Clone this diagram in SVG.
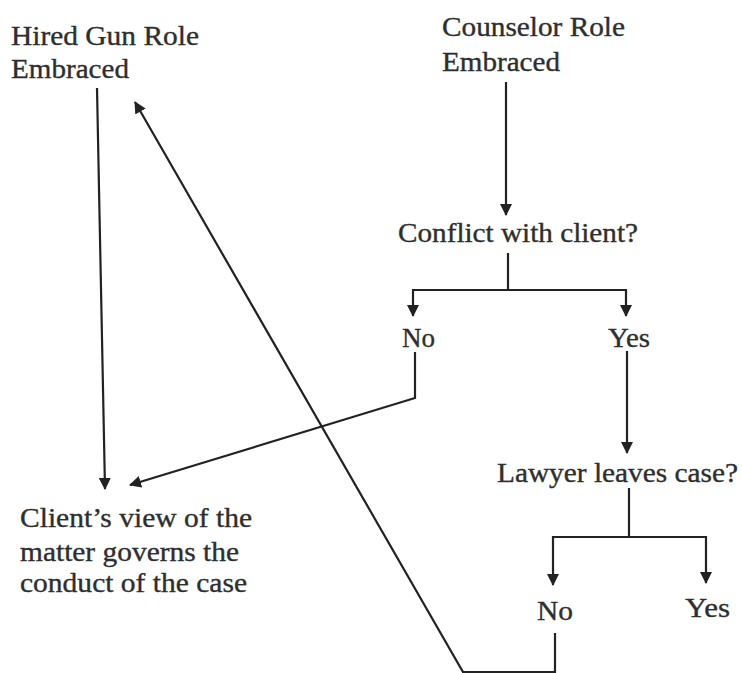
<svg xmlns="http://www.w3.org/2000/svg" width="742" height="673" viewBox="0 0 742 673">
<defs>
<style>
text{font-family:"Liberation Serif","Times New Roman",serif;font-size:27px;fill:#2e2e2e;stroke:#2e2e2e;stroke-width:0.35;}
.c{fill:none;stroke:#222;stroke-width:2.2;}
</style>
<marker id="ah" viewBox="0 0 12 12" refX="11" refY="6" markerWidth="12" markerHeight="12" markerUnits="userSpaceOnUse" orient="auto">
<path d="M0,0 L12,6 L0,12 Z" fill="#222"/>
</marker>
</defs>
<rect width="742" height="673" fill="#fff"/>
<g id="connectors">
<path class="c" d="M97,88 L105,489" marker-end="url(#ah)"/>
<path class="c" d="M506,82 V215" marker-end="url(#ah)"/>
<path class="c" d="M508,253 V290 H413 V316" marker-end="url(#ah)"/>
<path class="c" d="M508,290 H626 V316" marker-end="url(#ah)"/>
<path class="c" d="M415,352 V398 L130,485" marker-end="url(#ah)"/>
<path class="c" d="M627,351 V453" marker-end="url(#ah)"/>
<path class="c" d="M629,488 V537 H553 V585" marker-end="url(#ah)"/>
<path class="c" d="M629,537 H706 V583" marker-end="url(#ah)"/>
<path class="c" d="M555,633 V672 H463 L135,102" marker-end="url(#ah)"/>
</g>
<g id="hired-gun">
<text x="11" y="45" textLength="188" lengthAdjust="spacingAndGlyphs">Hired Gun Role</text>
<text x="11" y="78" textLength="118" lengthAdjust="spacingAndGlyphs">Embraced</text>
</g>
<g id="counselor">
<text x="442" y="36" textLength="183" lengthAdjust="spacingAndGlyphs">Counselor Role</text>
<text x="442" y="71" textLength="118" lengthAdjust="spacingAndGlyphs">Embraced</text>
</g>
<g id="conflict">
<text x="398" y="242" textLength="240" lengthAdjust="spacingAndGlyphs">Conflict with client?</text>
</g>
<g id="no1">
<text x="402" y="347" textLength="33" lengthAdjust="spacingAndGlyphs">No</text>
</g>
<g id="yes1">
<text x="608" y="347" textLength="42" lengthAdjust="spacingAndGlyphs">Yes</text>
</g>
<g id="lawyer-leaves">
<text x="497" y="482" textLength="241" lengthAdjust="spacingAndGlyphs">Lawyer leaves case?</text>
</g>
<g id="client-view">
<text x="20" y="527" textLength="232" lengthAdjust="spacingAndGlyphs">Client’s view of the</text>
<text x="20" y="561" textLength="219" lengthAdjust="spacingAndGlyphs">matter governs the</text>
<text x="20" y="592" textLength="227" lengthAdjust="spacingAndGlyphs">conduct of the case</text>
</g>
<g id="no2">
<text x="537" y="620" textLength="36" lengthAdjust="spacingAndGlyphs">No</text>
</g>
<g id="yes2">
<text x="685" y="617" textLength="45" lengthAdjust="spacingAndGlyphs">Yes</text>
</g>
</svg>
